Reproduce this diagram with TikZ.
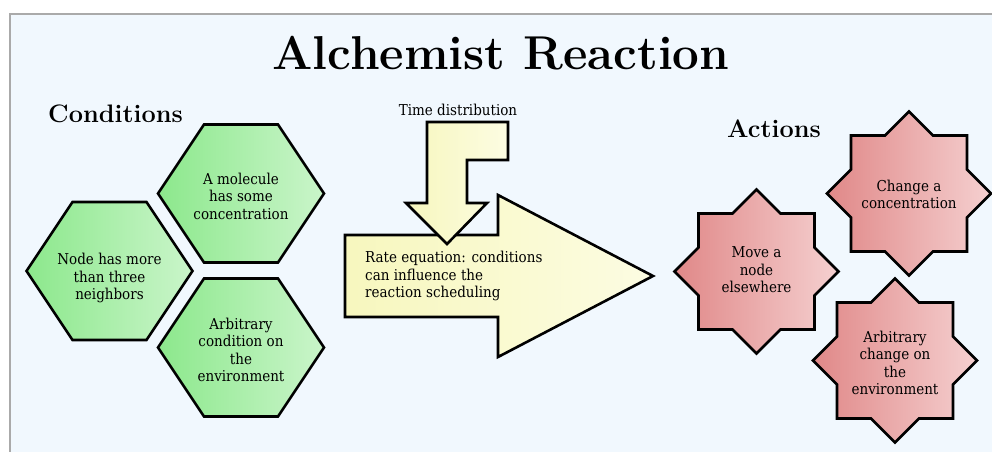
\documentclass[tikz,border=0pt]{standalone}
\usepackage{fontspec}
\newfontfamily\nodefont{DejaVu Serif}[FakeStretch=0.9]
\definecolor{bgblue}{RGB}{241,248,254}
\definecolor{framegray}{RGB}{170,170,170}
\definecolor{hexL}{RGB}{140,232,140}
\definecolor{hexR}{RGB}{202,245,202}
\definecolor{starL}{RGB}{224,136,136}
\definecolor{starR}{RGB}{245,208,208}
\definecolor{arrL}{RGB}{247,247,190}
\definecolor{arrR}{RGB}{252,252,226}
\begin{document}
\begin{tikzpicture}[x=1pt,y=-1pt,
  txt/.style={font=\nodefont\fontsize{15}{17.5}\selectfont, align=center, inner sep=0pt, text=black},
  heading/.style={font=\fontsize{25.3}{26}\selectfont\bfseries, inner sep=0pt, anchor=base west},
  outline/.style={draw=black, line width=2.6pt, line join=miter},
  hexshape/.style={outline, left color=hexL, right color=hexR},
  starshape/.style={outline, left color=starL, right color=starR},
  arrshape/.style={outline, left color=arrL, right color=arrR},
  hexpic/.pic={\path[hexshape] (-83,0) -- (-37,-69) -- (37,-69) -- (83,0) -- (37,69) -- (-37,69) -- cycle;},
  starpic/.pic={\path[starshape] (0,-82) -- (24,-58) -- (58,-58) -- (58,-24) -- (82,0) -- (58,24) -- (58,58) -- (24,58) -- (0,82) -- (-24,58) -- (-58,58) -- (-58,24) -- (-82,0) -- (-58,-24) -- (-58,-58) -- (-24,-58) -- cycle;}
]
\useasboundingbox (0,0) rectangle (992,452);
\fill[white] (0,0) rectangle (992,452);
\fill[bgblue] (10,14) rectangle (992,452);
\draw[framegray, line width=1.5pt] (992,14) -- (10,14) -- (10,452);

% title and headings
\node[font=\fontsize{47.5}{49}\selectfont\bfseries, inner sep=0pt, anchor=base] (title) at (501,70) {Alchemist Reaction};
\node[heading] (cond) at (48,122) {Conditions};
\node[heading] (act) at (727,137) {Actions};

% conditions
\pic at (241,193.5) {hexpic};
\node[txt] (hexA) at (241,196) {A molecule\\has some\\concentration};
\pic at (109.5,271) {hexpic};
\node[txt] (hexB) at (109.5,278) {Node has more\\than three\\neighbors};
\pic at (241,347.5) {hexpic};
\node[txt] (hexC) at (241,350) {Arbitrary\\condition on\\the\\environment};

% arrows
\path[arrshape] (345,235) -- (498,235) -- (498,195) -- (653,276) -- (498,357) -- (498,317) -- (345,317) -- cycle;
\path[arrshape] (427,122) -- (508,122) -- (508,160) -- (467,160) -- (467,203) -- (487,203) -- (447,244) -- (406,203) -- (427,203) -- cycle;
\node[txt, anchor=base] (time) at (458,115) {Time distribution};
\node[txt, align=left, anchor=west] (rate) at (365,276) {Rate equation: conditions\\can influence the\\reaction scheduling};

% actions
\pic at (909,193.5) {starpic};
\node[txt] (starA) at (909,194.5) {Change a\\concentration};
\pic at (756.5,271.5) {starpic};
\node[txt] (starB) at (756.5,270) {Move a\\node\\elsewhere};
\pic at (895,360.5) {starpic};
\node[txt] (starC) at (895,363) {Arbitrary\\change on\\the\\environment};
\end{tikzpicture}
\end{document}
